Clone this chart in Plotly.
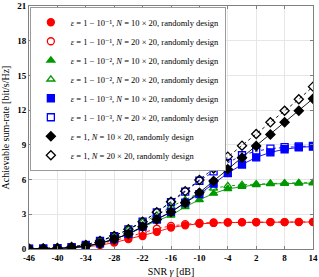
import plotly.graph_objects as go

snr = list(range(-46, 15, 3))

red_n10 = [0.01, 0.02, 0.04, 0.09, 0.18, 0.33, 0.55, 0.85, 1.12, 1.48, 1.85, 2.05, 2.18, 2.25, 2.28, 2.30, 2.31, 2.32, 2.32, 2.33, 2.33]
red_n20 = [0.01, 0.03, 0.06, 0.12, 0.24, 0.45, 0.72, 1.05, 1.40, 1.75, 2.00, 2.15, 2.25, 2.29, 2.31, 2.32, 2.33, 2.33, 2.33, 2.34, 2.34]
green_n10 = [0.01, 0.02, 0.05, 0.12, 0.25, 0.48, 0.85, 1.28, 1.88, 2.45, 2.90, 3.65, 4.25, 4.80, 5.20, 5.40, 5.55, 5.62, 5.66, 5.68, 5.70]
green_n20 = [0.02, 0.04, 0.08, 0.17, 0.35, 0.70, 1.12, 1.68, 2.32, 2.90, 3.66, 4.25, 4.85, 5.25, 5.45, 5.55, 5.62, 5.67, 5.70, 5.72, 5.73]
blue_n10 = [0.01, 0.02, 0.05, 0.12, 0.25, 0.48, 0.85, 1.30, 1.93, 2.55, 3.20, 4.00, 4.75, 5.65, 6.55, 7.30, 7.92, 8.35, 8.62, 8.78, 8.86]
blue_n20 = [0.02, 0.04, 0.08, 0.17, 0.35, 0.70, 1.12, 1.70, 2.36, 3.17, 4.05, 4.95, 5.90, 6.70, 7.45, 8.10, 8.45, 8.68, 8.80, 8.86, 8.90]
black_n10 = [0.01, 0.02, 0.05, 0.12, 0.25, 0.48, 0.85, 1.30, 1.93, 2.55, 3.20, 4.00, 4.87, 5.88, 6.89, 7.89, 8.90, 9.90, 10.95, 11.95, 12.99]
black_n20 = [0.02, 0.04, 0.08, 0.17, 0.35, 0.70, 1.12, 1.70, 2.36, 3.17, 4.09, 5.00, 5.96, 6.96, 7.98, 8.93, 9.94, 10.95, 11.95, 12.94, 14.03]

labels = [
    "<i>ε</i> = 1 − 10⁻¹, <i>N</i> = 10 × 20, randomly design",
    "<i>ε</i> = 1 − 10⁻¹, <i>N</i> = 20 × 20, randomly design",
    "<i>ε</i> = 1 − 10⁻², <i>N</i> = 10 × 20, randomly design",
    "<i>ε</i> = 1 − 10⁻², <i>N</i> = 20 × 20, randomly design",
    "<i>ε</i> = 1 − 10⁻³, <i>N</i> = 10 × 20, randomly design",
    "<i>ε</i> = 1 − 10⁻³, <i>N</i> = 20 × 20, randomly design",
    "<i>ε</i> = 1, <i>N</i> = 10 × 20, randomly design",
    "<i>ε</i> = 1, <i>N</i> = 20 × 20, randomly design",
]

series = [
    (red_n10, "#ff0000", "circle", "solid"),
    (red_n20, "#ff0000", "circle-open", "dot"),
    (green_n10, "#009900", "triangle-up", "solid"),
    (green_n20, "#009900", "triangle-up-open", "dot"),
    (blue_n10, "#0000ff", "square", "solid"),
    (blue_n20, "#0000ff", "square-open", "dot"),
    (black_n10, "#000000", "diamond", "solid"),
    (black_n20, "#000000", "diamond-open", "dot"),
]

fig = go.Figure()
for (vals, col, sym, dash), lab in zip(series, labels):
    fig.add_trace(go.Scatter(
        x=snr, y=vals, mode="lines+markers", showlegend=False,
        line=dict(color=col, width=0.9, dash=dash),
        marker=dict(symbol=sym, size=7, color=col, line=dict(color=col, width=1.3)),
    ))
for (vals, col, sym, dash), lab in zip(series, labels):
    fig.add_trace(go.Scatter(
        x=[None], y=[None], mode="markers", name=lab,
        marker=dict(symbol=sym, size=7, color=col, line=dict(color=col, width=1.3)),
    ))

font_serif = "Liberation Serif, DejaVu Serif, serif"
fig.update_layout(
    width=319, height=277,
    margin=dict(l=29, r=6, t=6, b=28),
    paper_bgcolor="white", plot_bgcolor="white",
    font=dict(family=font_serif, size=9, color="black"),
    legend=dict(x=0.003, y=0.997, xanchor="left", yanchor="top",
                bgcolor="white", bordercolor="#9a9a9a", borderwidth=1,
                font=dict(size=8.5, family=font_serif, color="black"), itemwidth=30,
                tracegroupgap=0),
)
fig.update_xaxes(
    range=[-46, 14], tickmode="array", tickvals=list(range(-46, 15, 6)),
    ticktext=["<b>%d</b>" % v for v in range(-46, 15, 6)],
    showgrid=True, gridcolor="#e6e6e6", gridwidth=1,
    showline=True, linecolor="#808080", linewidth=1, mirror="ticks",
    ticks="inside", ticklen=3, tickcolor="#808080",
    zeroline=False, tickfont=dict(size=9), automargin=False,
    title=dict(text="SNR <i>γ</i> [dB]", font=dict(size=10)),
)
fig.update_yaxes(
    range=[0, 21], tickmode="array", tickvals=list(range(0, 22, 3)),
    ticktext=["<b>%d</b>" % v for v in range(0, 22, 3)],
    showgrid=True, gridcolor="#e6e6e6", gridwidth=1,
    showline=True, linecolor="#808080", linewidth=1, mirror="ticks",
    ticks="inside", ticklen=3, tickcolor="#808080",
    zeroline=False, tickfont=dict(size=9), automargin=False,
    title=dict(text="Achievable sum-rate [bit/s/Hz]", font=dict(size=10)),
)
fig.write_html("out.html", config={"displayModeBar": False},
               post_script="document.body.style.margin='0px';document.body.style.overflow='hidden';")
